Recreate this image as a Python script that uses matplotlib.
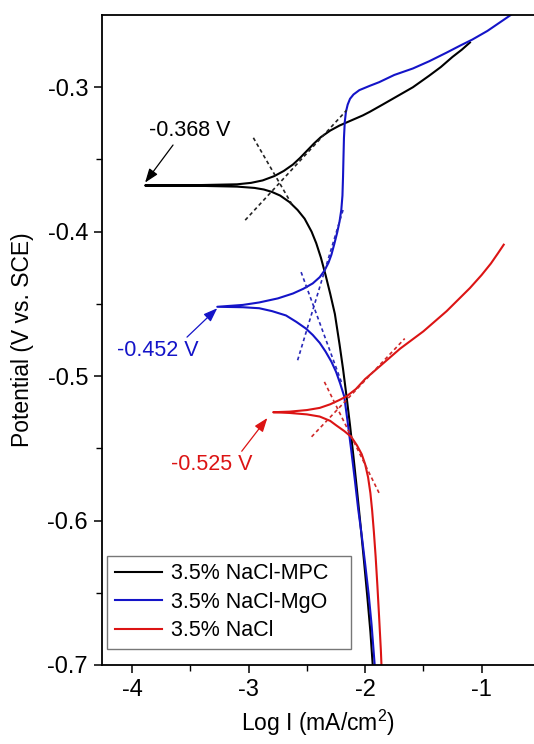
import matplotlib
matplotlib.use("Agg")
import matplotlib.pyplot as plt

plt.rcParams['font.family'] = ['Liberation Sans', 'DejaVu Sans']
plt.rcParams['mathtext.fontset'] = 'custom'
plt.rcParams['mathtext.rm'] = 'Liberation Sans'

# ---- data (log I in mA/cm^2, potential in V vs SCE) ----
mpc_x = [-1.935, -1.955, -1.98, -2.01, -2.04, -2.07, -2.10, -2.13, -2.16, -2.19, -2.22, -2.26,
         -2.30, -2.34, -2.38, -2.42, -2.46, -2.52, -2.58, -2.65, -2.73, -2.80, -2.87, -2.95,
         -3.10, -3.40, -3.89,
         -3.40, -3.10, -2.98, -2.88, -2.78, -2.70, -2.62, -2.56, -2.50, -2.44, -2.38, -2.30,
         -2.22, -2.12, -2.02, -1.96, -1.85, -1.72, -1.59, -1.45, -1.35, -1.25, -1.17, -1.10]
mpc_y = [-0.700, -0.677, -0.654, -0.628, -0.603, -0.579, -0.556, -0.534, -0.514, -0.495, -0.478, -0.457,
         -0.443, -0.430, -0.418, -0.408, -0.400, -0.391, -0.385, -0.3795, -0.375, -0.3725, -0.3708, -0.3697,
         -0.3688, -0.3683, -0.368,
         -0.3677, -0.3672, -0.3662, -0.3645, -0.3615, -0.358, -0.3535, -0.349, -0.344, -0.339, -0.3345, -0.330,
         -0.3265, -0.323, -0.3195, -0.317, -0.312, -0.306, -0.300, -0.292, -0.286, -0.279, -0.274, -0.269]

mgo_x = [-1.918, -1.92, -1.945, -1.97, -2.00, -2.03, -2.06, -2.09, -2.12, -2.15, -2.18, -2.215,
         -2.25, -2.29, -2.34, -2.39, -2.45, -2.51, -2.59, -2.68, -2.80, -2.91, -3.05, -3.27,
         -3.05, -2.91, -2.75, -2.62, -2.53, -2.45, -2.39, -2.35, -2.315, -2.29, -2.265, -2.24,
         -2.22, -2.205, -2.195, -2.19, -2.186, -2.182, -2.175, -2.165, -2.15, -2.13, -2.10, -2.05,
         -1.96, -1.88, -1.75, -1.59, -1.45, -1.30, -1.18, -1.08, -0.95, -0.85, -0.75, -0.65]
mgo_y = [-0.700, -0.698, -0.672, -0.651, -0.630, -0.610, -0.592, -0.571, -0.551, -0.532, -0.514, -0.505,
         -0.497, -0.490, -0.483, -0.477, -0.4715, -0.467, -0.4625, -0.458, -0.455, -0.453, -0.4523, -0.452,
         -0.4507, -0.449, -0.4462, -0.4428, -0.4395, -0.4358, -0.4315, -0.427, -0.4215, -0.416, -0.4085, -0.4005,
         -0.393, -0.385, -0.375, -0.362, -0.348, -0.335, -0.324, -0.317, -0.312, -0.308, -0.305, -0.302,
         -0.299, -0.2965, -0.2915, -0.287, -0.282, -0.276, -0.271, -0.267, -0.261, -0.2555, -0.250, -0.244]

nacl_x = [-1.86, -1.865, -1.88, -1.895, -1.91, -1.925, -1.94, -1.955, -1.975, -2.00, -2.03, -2.07,
          -2.12, -2.18, -2.25, -2.30, -2.39, -2.50, -2.65, -2.79,
          -2.65, -2.50, -2.39, -2.30, -2.22, -2.16, -2.08, -2.00, -1.90, -1.80, -1.70, -1.60,
          -1.50, -1.40, -1.30, -1.20, -1.10, -1.00, -0.92, -0.86, -0.81]
nacl_y = [-0.700, -0.690, -0.667, -0.645, -0.625, -0.608, -0.593, -0.581, -0.570, -0.561, -0.554, -0.548,
          -0.542, -0.538, -0.534, -0.531, -0.528, -0.5265, -0.5255, -0.525,
          -0.5246, -0.5235, -0.522, -0.5195, -0.5165, -0.514, -0.509, -0.502, -0.495, -0.488, -0.481, -0.475,
          -0.469, -0.462, -0.455, -0.447, -0.439, -0.430, -0.422, -0.415, -0.409]

# Tafel tangent lines: (x0, x1), (y0, y1)
tafel_mpc = [((-2.96, -2.63), (-0.335, -0.381)), ((-3.03, -2.16), (-0.392, -0.316))]
tafel_mgo = [((-2.55, -2.20), (-0.428, -0.505)), ((-2.58, -2.19), (-0.489, -0.385))]
tafel_nacl = [((-2.35, -1.88), (-0.504, -0.581)), ((-2.46, -1.66), (-0.542, -0.474))]

labels = ['3.5% NaCl-MPC', '3.5% NaCl-MgO', '3.5% NaCl']
ecorr_text = ['-0.368 V', '-0.452 V', '-0.525 V']
ecorr_pts = [(-3.89, -0.366), (-3.27, -0.453), (-2.84, -0.529)]
text_pts = [(-3.51, -0.330), (-3.78, -0.482), (-3.32, -0.561)]
arrow_starts = [(-3.65, -0.340), (-3.53, -0.473), (-3.06, -0.552)]

colors = ['#000000', '#1414C8', '#DC1414']
dash_colors = ['#222222', '#2828B8', '#D02828']

fig = plt.figure(figsize=(5.34, 7.44), dpi=100)
ax = fig.add_axes([0.191, 0.1062, 0.809, 0.8736])

series = [(mpc_x, mpc_y), (mgo_x, mgo_y), (nacl_x, nacl_y)]
for (xs, ys), c, lab in zip(series, colors, labels):
    ax.plot(xs, ys, color=c, lw=1.5, label=lab, solid_joinstyle='round')

for tl, c in zip([tafel_mpc, tafel_mgo, tafel_nacl], dash_colors):
    for (xx, yy) in tl:
        ax.plot(xx, yy, color=c, lw=1.2, dashes=(2.2, 1.8))

for t, tp, c in zip(ecorr_text, text_pts, colors):
    ax.text(tp[0], tp[1], t, color=c, fontsize=15.5, ha='center', va='center')

for s, p, c in zip(arrow_starts, ecorr_pts, colors):
    ax.annotate('', xy=p, xytext=s,
                arrowprops=dict(arrowstyle='-|>,head_length=0.6,head_width=0.22', color=c, lw=0.9,
                                mutation_scale=14, shrinkA=0, shrinkB=0))

ax.set_xlim(-4.26, -0.55)
ax.set_ylim(-0.7, -0.25)
ax.set_xticks([-4, -3, -2, -1])
ax.set_xticks([-3.5, -2.5, -1.5], minor=True)
ax.set_yticks([-0.7, -0.6, -0.5, -0.4, -0.3])
ax.set_yticks([-0.65, -0.55, -0.45, -0.35], minor=True)
ax.set_xticklabels(['-4', '-3', '-2', '-1'])
ax.set_yticklabels(['-0.7', '-0.6', '-0.5', '-0.4', '-0.3'])
ax.tick_params(which='major', direction='out', length=6, width=1.1, labelsize=17, pad=4)
ax.tick_params(which='minor', direction='out', length=4, width=1.0)
for sp in ['left', 'bottom', 'top']:
    ax.spines[sp].set_linewidth(1.3)
ax.spines['right'].set_visible(False)

ax.set_xlabel('Log I (mA/cm$^{2}$)', fontsize=16.5, labelpad=5)
ax.set_ylabel('Potential (V vs. SCE)', fontsize=16.5, labelpad=10)

leg = ax.legend(loc='lower left', bbox_to_anchor=(0.0116, 0.0246, 0.565, 0.14), mode='expand',
                borderaxespad=0, fontsize=15.5, frameon=True, fancybox=False, handlelength=2.2,
                handletextpad=0.4, labelspacing=0.35, borderpad=0.35)
leg.get_frame().set_edgecolor('#555555')
leg.get_frame().set_linewidth(1.0)

fig.savefig('out.png', dpi=100)
